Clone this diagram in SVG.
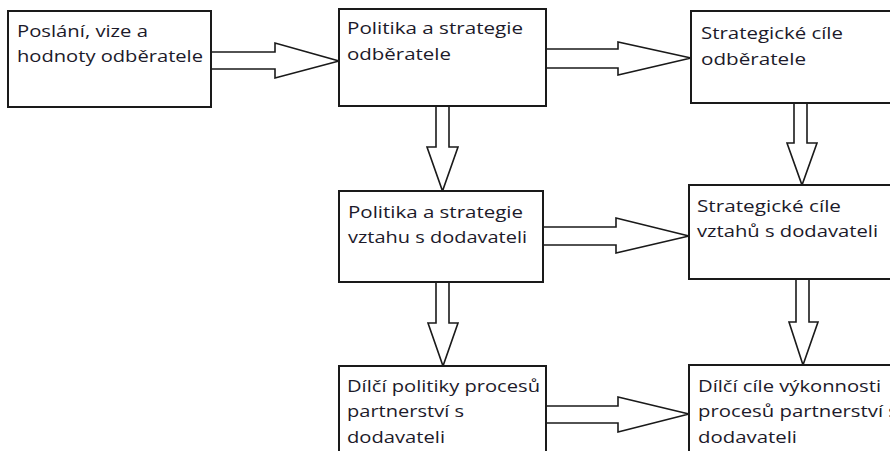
<svg xmlns="http://www.w3.org/2000/svg" width="890" height="451" viewBox="0 0 890 451">
<style>
.box{fill:#fff;stroke:#1a1a1a;stroke-width:2}
.arr{fill:#fff;stroke:#1a1a1a;stroke-width:1.6;stroke-linejoin:miter}
text{font-family:"Open Sans","Liberation Sans",sans-serif;font-size:17px;fill:#1c1a2a}
</style>
<rect width="890" height="451" fill="#fff"/>
<g id="connectors">
<polygon class="arr" points="211,52 275,52 275,43 339,61 275,78 275,69 211,69"/>
<polygon class="arr" points="546,49 618,49 618,42 691,58 618,75 618,68 546,68"/>
<polygon class="arr" points="436,106 436,147 427,147 442.5,191 458,147 449,147 449,106"/>
<polygon class="arr" points="543,227 616,227 616,218 689,236 616,253 616,245 543,245"/>
<polygon class="arr" points="794,103 794,143 787,143 802,185 817,143 807,143 807,103"/>
<polygon class="arr" points="436,282 436,323 428,323 443,366 458,323 449,323 449,282"/>
<polygon class="arr" points="796,279 796,322 789,322 803,365 818,322 809,322 809,279"/>
<polygon class="arr" points="546,406 618,406 618,397 689,414 618,432 618,423 546,423"/>
</g>
<g id="n1">
<rect class="box" x="8" y="11" width="203" height="96"/>
<text x="17" y="37" textLength="131" lengthAdjust="spacingAndGlyphs">Poslání, vize a</text>
<text x="17" y="62" textLength="186" lengthAdjust="spacingAndGlyphs">hodnoty odběratele</text>
</g>
<g id="n2">
<rect class="box" x="339" y="9" width="207" height="97"/>
<text x="347" y="34" textLength="176" lengthAdjust="spacingAndGlyphs">Politika a strategie</text>
<text x="347" y="60" textLength="104" lengthAdjust="spacingAndGlyphs">odběratele</text>
</g>
<g id="n3">
<rect class="box" x="691" y="11" width="220" height="92"/>
<text x="701" y="39" textLength="142" lengthAdjust="spacingAndGlyphs">Strategické cíle</text>
<text x="701" y="65" textLength="105" lengthAdjust="spacingAndGlyphs">odběratele</text>
</g>
<g id="n4">
<rect class="box" x="339" y="191" width="204" height="91"/>
<text x="348" y="218" textLength="175" lengthAdjust="spacingAndGlyphs">Politika a strategie</text>
<text x="348" y="243" textLength="179" lengthAdjust="spacingAndGlyphs">vztahu s dodavateli</text>
</g>
<g id="n5">
<rect class="box" x="689" y="185" width="220" height="94"/>
<text x="697" y="212" textLength="144" lengthAdjust="spacingAndGlyphs">Strategické cíle</text>
<text x="697" y="237" textLength="181" lengthAdjust="spacingAndGlyphs">vztahů s dodavateli</text>
</g>
<g id="n6">
<rect class="box" x="339" y="366" width="207" height="100"/>
<text x="347" y="392" textLength="193" lengthAdjust="spacingAndGlyphs">Dílčí politiky procesů</text>
<text x="347" y="417" textLength="117" lengthAdjust="spacingAndGlyphs">partnerství s</text>
<text x="347" y="443" textLength="98" lengthAdjust="spacingAndGlyphs">dodavateli</text>
</g>
<g id="n7">
<rect class="box" x="689" y="365" width="220" height="100"/>
<text x="698" y="392" textLength="183" lengthAdjust="spacingAndGlyphs">Dílčí cíle výkonnosti</text>
<text x="698" y="417" textLength="200" lengthAdjust="spacingAndGlyphs">procesů partnerství s</text>
<text x="698" y="443" textLength="99" lengthAdjust="spacingAndGlyphs">dodavateli</text>
</g>
</svg>
